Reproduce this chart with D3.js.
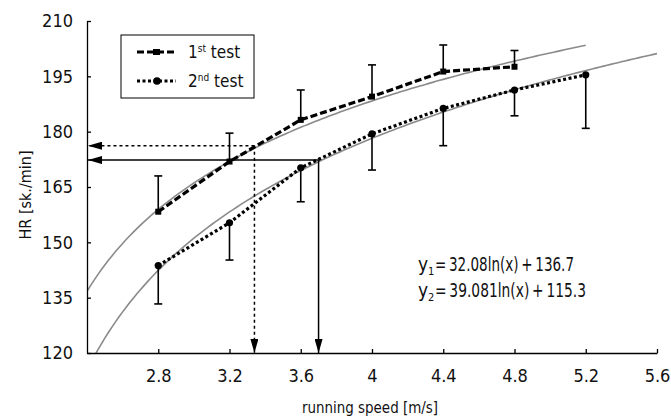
<!DOCTYPE html>
<html>
<head>
<meta charset="utf-8">
<script src="https://cdn.jsdelivr.net/npm/d3@7"></script>
<style>
body{margin:0;background:#fff;}
text{font-family:"Liberation Sans Narrow","DejaVu Sans Condensed",sans-serif;fill:#111;}
</style>
</head>
<body>
<svg id="chart" width="671" height="417"></svg>
<script>
//data-------------------------------------------------------
var speeds1 = [2.8, 3.2, 3.6, 4.0, 4.4, 4.8];
var hr1 = [158.3, 171.9, 183.2, 189.5, 196.3, 197.6];
var sd1 = [9.7, 7.7, 8.1, 8.6, 7.2, 4.4];

var speeds2 = [2.8, 3.2, 3.6, 4.0, 4.4, 4.8, 5.2];
var hr2 = [143.7, 155.3, 170.2, 179.4, 186.3, 191.3, 195.4];
var sd2 = [10.4, 10.1, 9.2, 9.8, 10.1, 7.0, 14.5];

//trend lines y = a*ln(k)+b, k = category number (2.4 -> 1, 2.8 -> 2 ...)
var trendA = [32.08, 39.081];
var trendB = [136.7, 115.3];
var trendEnd = [5.2, 5.6];

//read-off arrows: [speed, HR]
var readDotted = [3.34, 176.2];
var readSolid = [3.70, 172.3];

var xTicks = [2.8, 3.2, 3.6, 4, 4.4, 4.8, 5.2, 5.6];
var yTicks = [120, 135, 150, 165, 180, 195, 210];

//scales------------------------------------------------------
var x = d3.scaleLinear().domain([2.4, 5.6]).range([87, 657]);
var y = d3.scaleLinear().domain([120, 210]).range([353, 21]);

var svg = d3.select("#chart");

var defs = svg.append("defs");
defs.append("clipPath").attr("id", "plot")
	.append("rect").attr("x", 87).attr("y", 21).attr("width", 570).attr("height", 332);

defs.append("marker")
	.attr("id", "arrow")
	.attr("markerUnits", "userSpaceOnUse")
	.attr("viewBox", "0 -4 14 8")
	.attr("refX", 14).attr("refY", 0)
	.attr("markerWidth", 14).attr("markerHeight", 8)
	.attr("orient", "auto")
	.append("path").attr("d", "M0,-4L14,0L0,4Z").attr("fill", "#000");

//trend lines-------------------------------------------------
var trendLine = d3.line()
	.x(function(d){ return x(d[0]); })
	.y(function(d){ return y(d[1]); });

trendA.forEach(function(a, i){
	var pts = d3.range(2.4, trendEnd[i] + 0.001, 0.02).map(function(s){
		var k = (s - 2.0) / 0.4;
		return [s, a * Math.log(k) + trendB[i]];
	});
	svg.append("path")
		.attr("d", trendLine(pts))
		.attr("clip-path", "url(#plot)")
		.style("fill", "none")
		.style("stroke", "#8a8a8a")
		.style("stroke-width", 1.6);
});

//read-off arrows---------------------------------------------
function drawRead(p, dash){
	[[x(2.4) + 1, y(p[1])], [x(p[0]), y(120)]].forEach(function(end){
		svg.append("line")
			.attr("x1", x(p[0])).attr("y1", y(p[1]))
			.attr("x2", end[0]).attr("y2", end[1])
			.attr("marker-end", "url(#arrow)")
			.style("stroke", "#000")
			.style("stroke-width", 1.5)
			.style("stroke-dasharray", dash);
	});
}
drawRead(readDotted, "3,3");
drawRead(readSolid, null);

//error bars--------------------------------------------------
function errBars(sp, hr, sd, dir){
	var g = svg.append("g");
	sp.forEach(function(s, i){
		var end = y(hr[i] + dir * sd[i]);
		g.append("line").attr("x1", x(s)).attr("x2", x(s))
			.attr("y1", y(hr[i])).attr("y2", end);
		g.append("line").attr("x1", x(s) - 4).attr("x2", x(s) + 4)
			.attr("y1", end).attr("y2", end);
	});
	g.selectAll("line").style("stroke", "#000").style("stroke-width", 1.6);
}
errBars(speeds1, hr1, sd1, 1);
errBars(speeds2, hr2, sd2, -1);

//series lines and markers------------------------------------
var line1 = d3.line().x(function(d){ return x(d); }).y(function(d, i){ return y(hr1[i]); });
var line2 = d3.line().x(function(d){ return x(d); }).y(function(d, i){ return y(hr2[i]); });

svg.append("path").attr("d", line1(speeds1))
	.style("fill", "none").style("stroke", "#000")
	.style("stroke-width", 3.2).style("stroke-dasharray", "7,3");
svg.append("path").attr("d", line2(speeds2))
	.style("fill", "none").style("stroke", "#000")
	.style("stroke-width", 3.2).style("stroke-dasharray", "3,2.5");

svg.append("g").selectAll("rect")
	.data(speeds1)
	.enter()
	.append("rect")
	.attr("x", function(d){ return x(d) - 3; })
	.attr("y", function(d, i){ return y(hr1[i]) - 3; })
	.attr("width", 6).attr("height", 6)
	.style("fill", "#000");

svg.append("g").selectAll("circle")
	.data(speeds2)
	.enter()
	.append("circle")
	.attr("cx", function(d){ return x(d); })
	.attr("cy", function(d, i){ return y(hr2[i]); })
	.attr("r", 3.6)
	.style("fill", "#000");

//axes--------------------------------------------------------
var xAxis = svg.append("g")
	.attr("transform", "translate(0," + y(120) + ")")
	.call(d3.axisBottom(x).tickValues(xTicks).tickSizeInner(-4).tickSizeOuter(0).tickPadding(16)
		.tickFormat(function(d){ return d; }));
var yAxis = svg.append("g")
	.attr("transform", "translate(" + x(2.4) + ",0)")
	.call(d3.axisLeft(y).tickValues(yTicks).tickSizeInner(-4).tickSizeOuter(0).tickPadding(14));

[xAxis, yAxis].forEach(function(a){
	a.selectAll("path,line").style("stroke", "#000").style("stroke-width", 1.3);
	a.selectAll("text").style("font-size", "18px").style("fill", "#111")
		.style("font-family", "'Liberation Sans Narrow','DejaVu Sans Condensed',sans-serif");
});

svg.append("text")
	.attr("x", 370).attr("y", 413)
	.attr("text-anchor", "middle")
	.attr("textLength", 136).attr("lengthAdjust", "spacingAndGlyphs")
	.style("font-size", "16px")
	.text("running speed [m/s]");

svg.append("text")
	.attr("transform", "translate(31,195) rotate(-90)")
	.attr("text-anchor", "middle")
	.style("font-size", "16px")
	.text("HR [sk./min]");

//legend------------------------------------------------------
var legend = svg.append("g");
legend.append("rect")
	.attr("x", 121).attr("y", 35).attr("width", 133).attr("height", 63)
	.style("fill", "#fff").style("stroke", "#000").style("stroke-width", 1);

var legRows = [
	{y: 52, dash: "7,3", label: "1", sup: "st"},
	{y: 81, dash: "3,2.5", label: "2", sup: "nd"}
];
legRows.forEach(function(r, i){
	legend.append("line")
		.attr("x1", 137).attr("x2", 176).attr("y1", r.y).attr("y2", r.y)
		.style("stroke", "#000").style("stroke-width", 3.2).style("stroke-dasharray", r.dash);
	if (i == 0) {
		legend.append("rect").attr("x", 153).attr("y", r.y - 3).attr("width", 7).attr("height", 6)
			.style("fill", "#000");
	} else {
		legend.append("circle").attr("cx", 157).attr("cy", r.y).attr("r", 3.8).style("fill", "#000");
	}
	var t = legend.append("text").attr("x", 188).attr("y", r.y + 6).style("font-size", "17px");
	t.append("tspan").text(r.label);
	t.append("tspan").attr("dy", -6).style("font-size", "10px").text(r.sup);
	t.append("tspan").attr("dy", 6).text(" test");
});

//equations---------------------------------------------------
var eqSub = ["1", "2"];
var eqText = ["=\u200932.08ln(x)\u2009+\u2009136.7", "=\u200939.081ln(x)\u2009+\u2009115.3"];
var eqLen = [139, 151];
eqText.forEach(function(e, i){
	var by = 271 + i * 26;
	svg.append("text").attr("x", 418).attr("y", by).style("font-size", "19px").text("y");
	svg.append("text").attr("x", 428).attr("y", by + 4).style("font-size", "11px").text(eqSub[i]);
	svg.append("text").attr("x", 435).attr("y", by)
		.attr("textLength", eqLen[i]).attr("lengthAdjust", "spacingAndGlyphs")
		.style("font-size", "19px")
		.text(e);
});
</script>
</body>
</html>
